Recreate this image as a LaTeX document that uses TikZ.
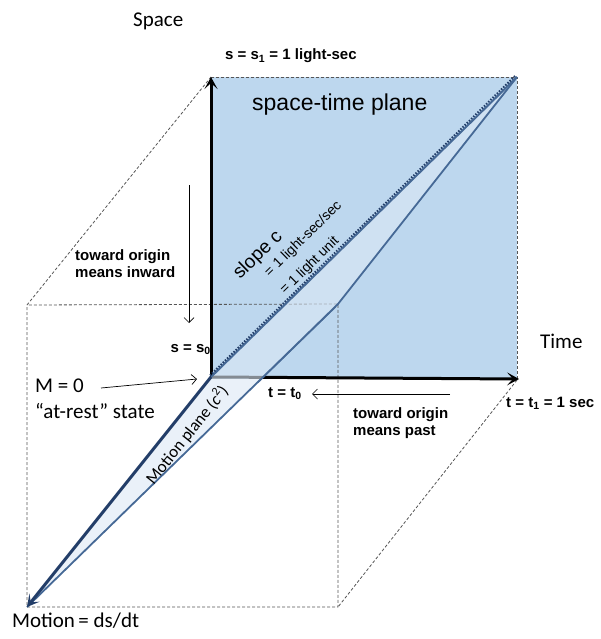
\documentclass[tikz,border=0pt]{standalone}
\usepackage{fontspec}
\setmainfont{Liberation Sans}
\newfontfamily\calfont{Carlito}
\usetikzlibrary{arrows.meta}
\definecolor{stblue}{RGB}{189,215,238}
\definecolor{planefill}{RGB}{220,232,245}
\definecolor{edgeblue}{RGB}{70,105,150}
\definecolor{navyline}{RGB}{35,62,105}
\definecolor{dashgray}{RGB}{85,85,85}
\begin{document}
\begin{tikzpicture}[x=1pt,y=-1pt,
  boxdash/.style={dashgray, line width=0.8pt, dash pattern=on 3pt off 2pt},
  bigarrow/.style={line width=3pt, -{Stealth[length=12pt,width=13pt,inset=6pt]}},
  thinarrow/.style={line width=0.7pt, -{Straight Barb[length=5pt,width=10pt]}},
  boldlbl/.style={font=\fontsize{15}{17}\selectfont\bfseries, inner sep=0, anchor=base west},
  callbl/.style={font=\fontsize{21}{24}\selectfont\calfont, inner sep=0, anchor=base west},
  slopelbl/.style={font=\fontsize{14}{15}\selectfont, inner sep=0, anchor=base west, rotate=44.4},
]
\useasboundingbox (0,0) rectangle (600,639);
% key points
\coordinate (O) at (211,377);
\coordinate (S) at (211,77);
\coordinate (TR) at (517,77);
\coordinate (T) at (519,379);
\coordinate (BR) at (517,380);
\coordinate (M) at (27,607);
\coordinate (FTL) at (27,305);
\coordinate (FTR) at (338,304);
\coordinate (FBR) at (338,607);
% space-time plane
\fill[stblue] (211,77) rectangle (517,379);
% box edges
\draw[boxdash] (S) -- (TR) -- (BR);
\draw[boxdash] (S) -- (FTL) -- (M) -- (FBR) -- (FTR) -- (FTL);
\draw[boxdash] (BR) -- (FBR);
% axes
\draw[bigarrow] (O) -- (S);
\draw[bigarrow] (O) -- (T);
% motion plane
\fill[planefill, fill opacity=0.6] (O) -- (TR) -- (FTR) -- (M) -- cycle;
\draw[edgeblue, line width=1.8pt] (M) -- (FTR) -- (TR);
\draw[edgeblue, line width=0.5pt] (258,383) -- (336,307);
\draw[edgeblue, line width=2pt] (O) -- (TR);
\draw[navyline, line width=2pt, dash pattern=on 1.5pt off 1.5pt] (210,375.5) -- (515.5,75.5);
\draw[navyline, line width=3pt, -{Stealth[length=12pt,width=13pt,inset=6pt]}] (O) -- (M);
% texts
\node[callbl] (space) at (133,27) {Space};
\node[callbl] (time) at (540,348) {Time};
\node[callbl] (m0) at (35,392) {M = 0};
\node[callbl] (rest) at (35,418) {“at-rest” state};
\node[callbl] (motion) at (12,627) {Motion\,= ds/dt};
\node[font=\fontsize{23}{26}\selectfont, inner sep=0, anchor=base west] (stp) at (252,111) {space-time plane};
\node[boldlbl] (s1) at (225,60) {s = s\textsubscript{1} = 1 light-sec};
\node[boldlbl, anchor=base east] (s0) at (211,352) {s = s\textsubscript{0}};
\node[boldlbl] (t0) at (268,397) {t = t\textsubscript{0}};
\node[boldlbl] (t1) at (506,407) {t = t\textsubscript{1} = 1 sec};
\node[boldlbl, align=left] (inward) at (75,277) {toward origin\\means inward};
\node[boldlbl, align=left] (past) at (353,435) {toward origin\\means past};
\node[font=\fontsize{19}{20}\selectfont, inner sep=0, anchor=base west, rotate=44.4] (slope) at (240,280) {slope c};
\node[slopelbl] (ls) at (269.5,277.5) {= 1 light-sec/sec};
\node[slopelbl] (lu) at (285,295) {= 1 light unit};
\node[font=\fontsize{17}{18}\selectfont\calfont, inner sep=0, rotate=51.3] (mp) at (187,435) {Motion plane (\textit{c}\textsuperscript{2})};
% pointer arrows
\coordinate (a1s) at (189,185);
\coordinate (a1e) at (189,323);
\draw[thinarrow] (a1s) -- (a1e);
\coordinate (a2s) at (101,388);
\coordinate (a2e) at (197,379);
\draw[thinarrow] (a2s) -- (a2e);
\coordinate (a3s) at (450,394);
\coordinate (a3e) at (312,394);
\draw[thinarrow] (a3s) -- (a3e);
\end{tikzpicture}
\end{document}
